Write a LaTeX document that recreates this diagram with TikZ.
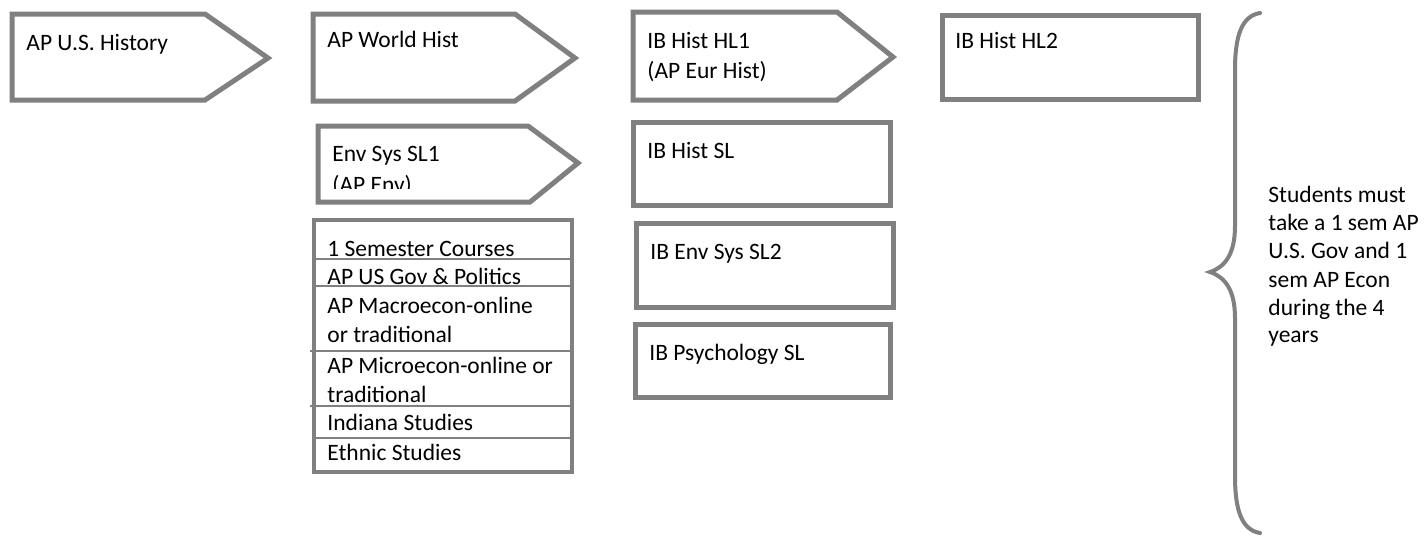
\documentclass[tikz,border=0pt]{standalone}
\usepackage{fontspec}
\setmainfont{Carlito}
\definecolor{bord}{HTML}{808080}
\begin{document}
\begin{tikzpicture}[x=0.5pt,y=-0.5pt,
  shapebox/.style={draw=bord,line width=2.5pt,fill=white,line join=miter},
  tablebox/.style={draw=bord,line width=2pt,fill=white},
  rowline/.style={draw=bord,line width=0.8pt},
  bracestyle/.style={draw=bord,line width=2pt,line cap=round},
  lbl/.style={anchor=base west,inner sep=0pt,font=\fontsize{11.75}{14.5}\selectfont}]
\useasboundingbox[fill=white] (0,0) rectangle (1424,537);

% AP U.S. History
\draw[shapebox] (12,14) -- (205,14) -- (268,58) -- (205,100) -- (12,100) -- cycle;
\node[lbl] (apus) at (26,50) {AP U.S. History};

% AP World Hist
\draw[shapebox] (313,14) -- (515,14) -- (575,58) -- (515,101) -- (313,101) -- cycle;
\node[lbl] (apworld) at (327,47) {AP World Hist};

% Env Sys SL1
\draw[shapebox] (318,126) -- (528,126) -- (578,163) -- (530,202) -- (318,202) -- cycle;
\begin{scope}
\clip (318,126) rectangle (578,188);
\node[lbl] (envone) at (332,161) {Env Sys SL1};
\node[lbl] (envtwo) at (332,192) {(AP Env)};
\end{scope}

% IB Hist HL1
\draw[shapebox] (633,12) -- (837,12) -- (893,57) -- (837,100) -- (633,100) -- cycle;
\node[lbl] (ibhlone) at (647,48) {IB Hist HL1};
\node[lbl] (ibhlonb) at (647,78) {(AP Eur Hist)};

% IB Hist SL
\draw[shapebox] (633,122) rectangle (890,205);
\node[lbl] (ibsl) at (647,158) {IB Hist SL};

% IB Env Sys SL2
\draw[shapebox] (636,223) rectangle (893,307);
\node[lbl] (ibenv) at (650,259) {IB Env Sys SL2};

% IB Psychology SL
\draw[shapebox] (635,324) rectangle (890,397);
\node[lbl] (ibpsy) at (649,360) {IB Psychology SL};

% IB Hist HL2
\draw[shapebox] (942,15) rectangle (1198,99);
\node[lbl] (ibhltwo) at (955,48) {IB Hist HL2};

% Table of 1 semester courses
\draw[tablebox] (314,220) rectangle (572,472);
\draw[rowline] (314,259) -- (572,259);
\draw[rowline] (314,286) -- (572,286);
\draw[rowline] (310,351) -- (572,351);
\draw[rowline] (310,406) -- (572,406);
\draw[rowline] (314,438) -- (572,438);
\node[lbl] (sem) at (327,256) {1 Semester Courses};
\node[lbl] (gov) at (327,284) {AP US Gov \& Politics};
\node[lbl] (macroa) at (327,313) {AP Macroecon-online};
\node[lbl] (macrob) at (327,342) {or traditional};
\node[lbl] (microa) at (327,373) {AP Microecon-online or};
\node[lbl] (microb) at (327,402) {traditional};
\node[lbl] (indiana) at (327,430) {Indiana Studies};
\node[lbl] (ethnic) at (327,460) {Ethnic Studies};

% Brace
\coordinate (btop) at (1260,13);
\coordinate (btip) at (1210,272);
\coordinate (bbot) at (1260,533);
\draw[bracestyle] (btop) .. controls (1242,16) and (1235,35) .. (1235,70)
  -- (1235,226) .. controls (1235,254) and (1225,267) .. (btip)
  .. controls (1225,277) and (1235,290) .. (1235,318)
  -- (1235,476) .. controls (1235,511) and (1242,530) .. (bbot);

% Note
\node[lbl] (n1) at (1268,202) {Students must};
\node[lbl] (n2) at (1268,230) {take a 1 sem AP};
\node[lbl] (n3) at (1268,258) {U.S. Gov and 1};
\node[lbl] (n4) at (1268,287) {sem AP Econ};
\node[lbl] (n5) at (1268,315) {during the 4};
\node[lbl] (n6) at (1268,342) {years};
\end{tikzpicture}
\end{document}
